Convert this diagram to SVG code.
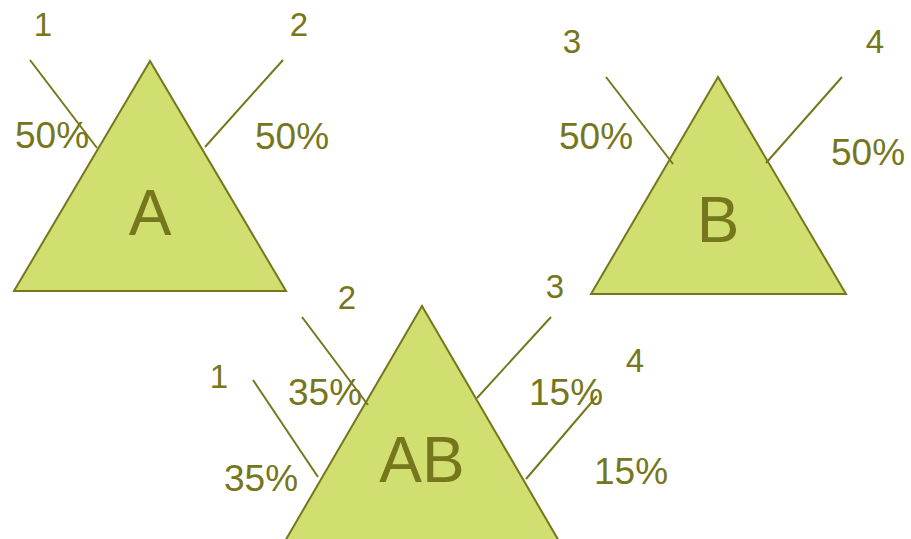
<svg xmlns="http://www.w3.org/2000/svg" width="911" height="539" viewBox="0 0 911 539">
<style>
.tri{fill:#D1DE70;stroke:#76761C;stroke-width:2;stroke-linejoin:miter}
.ln{stroke:#76761C;stroke-width:2;fill:none}
text{font-family:"Liberation Sans",Arial,sans-serif;fill:#76761C}
.num{font-size:33px;text-anchor:middle}
.pct{font-size:37px}
.big{font-size:64px;text-anchor:middle}
</style>
<rect width="911" height="539" fill="#FFFFFF"/>
<g id="nodeA">
<polygon class="tri" points="150,61 14,291 286,291"/>
<text class="big" x="150" y="235">A</text>
</g>
<g id="nodeB">
<polygon class="tri" points="718,77 591,294 846,294"/>
<text class="big" x="718" y="242">B</text>
</g>
<g id="nodeAB">
<polygon class="tri" points="422,306 274,560 570,560"/>
<text class="big" x="422" y="482">AB</text>
</g>
<g id="connectors">
<line class="ln" x1="30" y1="60" x2="97" y2="148"/>
<line class="ln" x1="283" y1="60" x2="205" y2="147"/>
<line class="ln" x1="606" y1="77" x2="673" y2="164"/>
<line class="ln" x1="842" y1="77" x2="766" y2="163"/>
<line class="ln" x1="253" y1="380" x2="318" y2="477"/>
<line class="ln" x1="302" y1="317" x2="368" y2="405"/>
<line class="ln" x1="551" y1="317" x2="477" y2="398"/>
<line class="ln" x1="597" y1="396" x2="526" y2="479"/>
</g>
<g id="labels">
<text class="num" x="43" y="36">1</text>
<text class="num" x="299" y="36">2</text>
<text class="pct" x="15" y="148">50%</text>
<text class="pct" x="255" y="149">50%</text>
<text class="num" x="572" y="53">3</text>
<text class="num" x="875" y="53">4</text>
<text class="pct" x="559" y="149">50%</text>
<text class="pct" x="831" y="165">50%</text>
<text class="num" x="347" y="309">2</text>
<text class="num" x="555" y="298">3</text>
<text class="num" x="219" y="388">1</text>
<text class="num" x="635" y="372">4</text>
<text class="pct" x="288" y="405">35%</text>
<text class="pct" x="224" y="491">35%</text>
<text class="pct" x="529" y="405">15%</text>
<text class="pct" x="594" y="484">15%</text>
</g>
</svg>
